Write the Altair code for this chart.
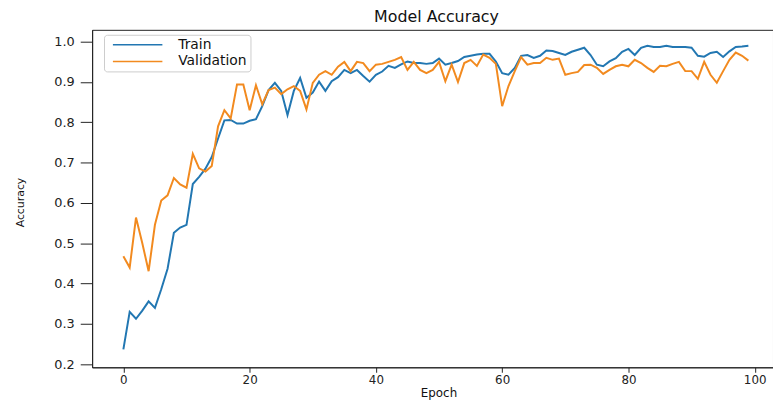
import altair as alt
import pandas as pd

epochs = list(range(100))

train_acc = [
    0.237, 0.330, 0.313, 0.333, 0.356, 0.340, 0.386, 0.437, 0.526, 0.539,
    0.546, 0.647, 0.665, 0.685, 0.714, 0.760, 0.805, 0.806, 0.797, 0.797,
    0.804, 0.808, 0.840, 0.880, 0.898, 0.878, 0.818, 0.878, 0.910, 0.861,
    0.874, 0.901, 0.878, 0.902, 0.912, 0.930, 0.922, 0.930, 0.915, 0.901,
    0.918, 0.926, 0.940, 0.935, 0.944, 0.951, 0.947, 0.947, 0.945, 0.947,
    0.958, 0.943, 0.947, 0.952, 0.962, 0.965, 0.968, 0.970, 0.970, 0.951,
    0.922, 0.918, 0.935, 0.965, 0.967, 0.960, 0.965, 0.978, 0.977, 0.972,
    0.967, 0.975, 0.980, 0.985, 0.967, 0.943, 0.939, 0.951, 0.959, 0.975,
    0.982, 0.967, 0.985, 0.990, 0.987, 0.987, 0.990, 0.987, 0.987, 0.987,
    0.985, 0.965, 0.963, 0.972, 0.975, 0.962, 0.976, 0.987, 0.988, 0.990,
]

val_acc = [
    0.468, 0.440, 0.564, 0.500, 0.431, 0.546, 0.606, 0.619, 0.662, 0.646,
    0.638, 0.722, 0.686, 0.678, 0.692, 0.790, 0.830, 0.810, 0.894, 0.894,
    0.830, 0.892, 0.845, 0.880, 0.886, 0.870, 0.882, 0.890, 0.878, 0.832,
    0.898, 0.918, 0.927, 0.918, 0.938, 0.950, 0.927, 0.950, 0.947, 0.927,
    0.943, 0.945, 0.950, 0.955, 0.962, 0.930, 0.950, 0.930, 0.922, 0.930,
    0.950, 0.902, 0.943, 0.900, 0.947, 0.955, 0.940, 0.968, 0.960, 0.945,
    0.840, 0.890, 0.927, 0.962, 0.943, 0.947, 0.947, 0.960, 0.955, 0.958,
    0.918, 0.922, 0.925, 0.942, 0.943, 0.935, 0.920, 0.930, 0.939, 0.943,
    0.939, 0.955, 0.947, 0.935, 0.925, 0.940, 0.939, 0.945, 0.950, 0.927,
    0.927, 0.908, 0.950, 0.918, 0.898, 0.927, 0.955, 0.973, 0.965, 0.953,
]

series_names = ["Train", "Validation"]
series_colors = ["#2277b2", "#f28a1f"]
x_ticks = [0, 20, 40, 60, 80, 100]
y_ticks = [0.2, 0.3, 0.4, 0.5, 0.6, 0.7, 0.8, 0.9, 1.0]

df = pd.concat([
    pd.DataFrame({"Epoch": epochs, "Accuracy": train_acc, "Series": "Train"}),
    pd.DataFrame({"Epoch": epochs, "Accuracy": val_acc, "Series": "Validation"}),
], ignore_index=True)

FONT = "DejaVu Sans"

chart = alt.Chart(df).mark_line(strokeWidth=2, clip=True).encode(
    x=alt.X(
        "Epoch:Q",
        scale=alt.Scale(domain=[-4.95, 102.9], nice=False, zero=False),
        axis=alt.Axis(
            values=x_ticks, title="Epoch", grid=False,
            tickSize=5, labelPadding=2, labelFontSize=12,
            titleFontSize=12, titlePadding=3, titleX=350,
        ),
    ),
    y=alt.Y(
        "Accuracy:Q",
        scale=alt.Scale(domain=[0.1926, 1.0294], nice=False, zero=False),
        axis=alt.Axis(
            values=y_ticks, format=".1f", title="Accuracy", grid=False,
            tickSize=12, labelPadding=6, labelFontSize=13,
            titleFontSize=11, titleX=-67, titleY=174, titleAngle=270,
            titleAlign="center", titleBaseline="bottom",
        ),
    ),
    color=alt.Color(
        "Series:N",
        scale=alt.Scale(domain=series_names, range=series_colors),
        title=None,
        legend=alt.Legend(
            orient="none", legendX=12, legendY=5,
            symbolType="M-0.2,0H9.8", symbolSize=100, symbolStrokeWidth=1.5,
            labelFontSize=14, labelFont=FONT, labelColor="#111",
            labelOffset=58, padding=3, rowPadding=3,
            strokeColor="#cccccc", fillColor="rgba(255,255,255,0.85)",
            cornerRadius=3,
        ),
    ),
).properties(
    width=688,
    height=341,
    title=alt.TitleParams(
        "Model Accuracy", fontSize=16, fontWeight="normal", font=FONT,
        color="#111", offset=5, anchor="middle", frame="group", dx=4,
    ),
    autosize=alt.AutoSizeParams(type="none"),
    padding={"left": 85, "top": 20, "right": 0, "bottom": 33},
).configure(
    font=FONT,
).configure_axis(
    labelFont=FONT, titleFont=FONT, labelColor="#222", titleColor="#111",
    tickColor="#222", domainColor="#222", titleFontWeight="normal",
).configure_view(
    stroke="#222", strokeWidth=1,
)

chart.save("out.html", embed_options={"renderer": "svg", "actions": False})
